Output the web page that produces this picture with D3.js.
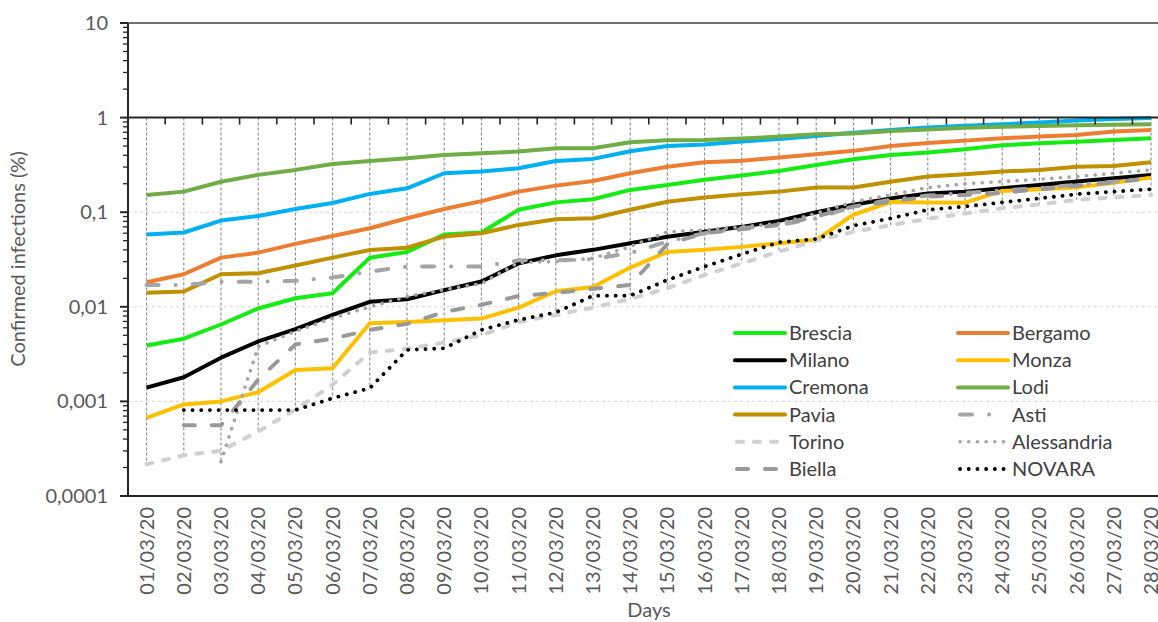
<!DOCTYPE html>
<html>
<head>
<meta charset="utf-8">
<script src="https://cdn.jsdelivr.net/npm/d3@7"></script>
<style>
  body { margin: 0; background: #fff; }
  text { font-family: Lato, "Noto Sans", sans-serif; }
</style>
</head>
<body>
<script>
// Days on the x axis
var days = ["01/03/20","02/03/20","03/03/20","04/03/20","05/03/20","06/03/20","07/03/20",
            "08/03/20","09/03/20","10/03/20","11/03/20","12/03/20","13/03/20","14/03/20",
            "15/03/20","16/03/20","17/03/20","18/03/20","19/03/20","20/03/20","21/03/20",
            "22/03/20","23/03/20","24/03/20","25/03/20","26/03/20","27/03/20","28/03/20"];

// Confirmed infections (%) per province
var brescia = [0.0039, 0.0046, 0.0065, 0.0096, 0.0123, 0.0139, 0.033, 0.038, 0.058, 0.061, 0.106, 0.127, 0.137, 0.172, 0.194, 0.22, 0.244, 0.273, 0.316, 0.363, 0.403, 0.427, 0.462, 0.51, 0.535, 0.557, 0.58, 0.604];
var bergamo = [0.0182, 0.0221, 0.0331, 0.0374, 0.0462, 0.0561, 0.0676, 0.0862, 0.108, 0.131, 0.165, 0.191, 0.214, 0.258, 0.303, 0.337, 0.35, 0.378, 0.41, 0.445, 0.5, 0.54, 0.571, 0.604, 0.63, 0.656, 0.711, 0.74];
var milano = [0.0014, 0.0018, 0.0029, 0.0043, 0.0058, 0.0082, 0.0113, 0.012, 0.015, 0.0185, 0.0288, 0.035, 0.04, 0.047, 0.055, 0.062, 0.07, 0.081, 0.1, 0.12, 0.14, 0.158, 0.165, 0.179, 0.194, 0.211, 0.228, 0.247];
var monza = [0.00067, 0.00093, 0.001, 0.00125, 0.00215, 0.00224, 0.0067, 0.0069, 0.0072, 0.0075, 0.0098, 0.0146, 0.0162, 0.026, 0.038, 0.04, 0.043, 0.047, 0.051, 0.094, 0.128, 0.127, 0.126, 0.168, 0.175, 0.183, 0.205, 0.232];
var cremona = [0.058, 0.061, 0.0815, 0.091, 0.108, 0.125, 0.156, 0.179, 0.258, 0.269, 0.291, 0.348, 0.366, 0.44, 0.5, 0.52, 0.56, 0.595, 0.64, 0.69, 0.74, 0.784, 0.82, 0.85, 0.89, 0.93, 0.965, 0.99];
var lodi = [0.152, 0.165, 0.21, 0.248, 0.28, 0.324, 0.348, 0.371, 0.403, 0.42, 0.437, 0.474, 0.474, 0.548, 0.575, 0.58, 0.6, 0.63, 0.666, 0.68, 0.72, 0.75, 0.78, 0.8, 0.817, 0.83, 0.84, 0.85];
var pavia = [0.0141, 0.0145, 0.0221, 0.0226, 0.0273, 0.0331, 0.0399, 0.0422, 0.0552, 0.0598, 0.0734, 0.0841, 0.0862, 0.106, 0.129, 0.143, 0.155, 0.165, 0.182, 0.182, 0.21, 0.238, 0.252, 0.269, 0.28, 0.303, 0.308, 0.337];
var asti = [0.017, 0.017, 0.0184, 0.0184, 0.0188, 0.0204, 0.0236, 0.0266, 0.0266, 0.0266, 0.031, 0.031, 0.032, 0.037, 0.049, 0.06, 0.068, 0.073, 0.086, 0.115, 0.135, 0.15, 0.16, 0.17, 0.18, 0.195, 0.21, 0.225];
var torino = [0.000216, 0.00027, 0.0003, 0.00048, 0.00082, 0.0015, 0.0033, 0.0036, 0.0042, 0.005, 0.0069, 0.0082, 0.0098, 0.0121, 0.0157, 0.0217, 0.0288, 0.0383, 0.05, 0.062, 0.073, 0.085, 0.097, 0.11, 0.121, 0.135, 0.143, 0.152];
var alessandria = [null, null, 0.00023, 0.0038, 0.0055, 0.0076, 0.01, 0.0128, 0.0152, 0.0176, 0.0294, 0.03, 0.0326, 0.0433, 0.062, 0.065, 0.07, 0.076, 0.097, 0.129, 0.152, 0.182, 0.2, 0.211, 0.223, 0.238, 0.258, 0.28];
var biella = [null, 0.00056, 0.00056, 0.0017, 0.004, 0.0046, 0.0057, 0.0066, 0.0088, 0.0105, 0.013, 0.014, 0.0155, 0.017, 0.046, 0.06, 0.066, 0.073, 0.09, 0.115, 0.129, 0.146, 0.152, 0.16, 0.175, 0.19, 0.207, 0.228];
var novara = [null, 0.00081, 0.00081, 0.00081, 0.00081, 0.00108, 0.00138, 0.0035, 0.00364, 0.00569, 0.00727, 0.00874, 0.0131, 0.0131, 0.0192, 0.0266, 0.036, 0.048, 0.052, 0.072, 0.086, 0.106, 0.115, 0.127, 0.14, 0.155, 0.165, 0.175];

var names = ["Brescia", "Bergamo", "Milano", "Monza", "Cremona", "Lodi", "Pavia", "Asti", "Torino", "Alessandria", "Biella", "NOVARA"];
var values = [brescia, bergamo, milano, monza, cremona, lodi, pavia, asti, torino, alessandria, biella, novara];
var yTicks = [10, 1, 0.1, 0.01, 0.001, 0.0001];
var yTickLabels = ["10", "1", "0,1", "0,01", "0,001", "0,0001"];

// line look per series (Excel-like styles)
var colors = ["#14EC14", "#ED7D31", "#000000", "#FFC000", "#00B0F0", "#70AD47", "#BF9000", "#A5A5A5", "#D0D0D0", "#A5A5A5", "#999999", "#000000"];
var dashes = [null, null, null, null, null, null, null, "12 17 0.1 17", "6 11", "0.1 8.6", "11 17", "0.1 8.6"];
var widths = [4, 4, 4, 4, 4, 4, 4, 4, 4, 3.6, 4, 3.8];

// plot box (note: "top" is a reserved window property, so use other names)
var W = 1158, H = 622;
var plotLeft = 128, plotTop = 23, plotBottom = 496, plotRight = 128 + 28 * 37.2;

var svg = d3.select("body").append("svg")
  .attr("width", W)
  .attr("height", H);

var x = d3.scalePoint().domain(days).range([plotLeft, plotRight]).padding(0.5);
var y = d3.scaleLog().domain([0.0001, 10]).range([plotBottom, plotTop]);

// horizontal dashed gridlines
svg.selectAll(".grid").data([0.1, 0.01, 0.001]).enter()
  .append("line")
  .attr("x1", plotLeft).attr("x2", W)
  .attr("y1", function(d){ return y(d); })
  .attr("y2", function(d){ return y(d); })
  .attr("stroke", "#d4d4d4")
  .attr("stroke-width", 1)
  .attr("stroke-dasharray", "3 3");

// drop lines from the axis at 1 down to the lowest series at each day
var lows = days.map(function(d, i){
  return d3.min(values, function(s){ return s[i]; });
});
svg.selectAll(".drop").data(days).enter()
  .append("line")
  .attr("x1", function(d){ return x(d); })
  .attr("x2", function(d){ return x(d); })
  .attr("y1", y(1))
  .attr("y2", function(d, i){ return y(lows[i]); })
  .attr("stroke", "#8a8a8a")
  .attr("stroke-width", 1.1)
  .attr("stroke-dasharray", "3 2");

// series lines
var line = d3.line()
  .defined(function(d){ return d != null; })
  .x(function(d, i){ return x(days[i]); })
  .y(function(d){ return y(d); });

svg.selectAll(".series").data(values).enter()
  .append("path")
  .attr("d", function(d){ return line(d); })
  .attr("fill", "none")
  .attr("stroke", function(d, i){ return colors[i]; })
  .attr("stroke-width", function(d, i){ return widths[i]; })
  .attr("stroke-dasharray", function(d, i){ return dashes[i]; })
  .attr("stroke-linecap", function(d, i){ return dashes[i] ? "round" : "butt"; })
  .attr("stroke-linejoin", "round");

// frame: top border, bottom line
var axisColor = "#262626";
svg.append("line").attr("x1", plotLeft).attr("x2", W).attr("y1", plotTop).attr("y2", plotTop)
  .attr("stroke", "#404040").attr("stroke-width", 1.5);
svg.append("line").attr("x1", plotLeft).attr("x2", W).attr("y1", plotBottom).attr("y2", plotBottom)
  .attr("stroke", axisColor).attr("stroke-width", 2);

// y axis with log ticks on the left side
var minor = [];
[0.0001, 0.001, 0.01, 0.1, 1].forEach(function(b){
  for (var k = 2; k <= 9; k++) minor.push(b * k);
});
svg.selectAll(".ytickMinor").data(minor).enter()
  .append("line")
  .attr("x1", plotLeft - 5).attr("x2", plotLeft)
  .attr("y1", function(d){ return y(d); })
  .attr("y2", function(d){ return y(d); })
  .attr("stroke", axisColor).attr("stroke-width", 1.3);
svg.selectAll(".ytick").data(yTicks).enter()
  .append("line")
  .attr("x1", plotLeft - 8).attr("x2", plotLeft)
  .attr("y1", function(d){ return y(d); })
  .attr("y2", function(d){ return y(d); })
  .attr("stroke", axisColor).attr("stroke-width", 2);
svg.append("line").attr("x1", plotLeft).attr("x2", plotLeft).attr("y1", plotTop).attr("y2", plotBottom)
  .attr("stroke", axisColor).attr("stroke-width", 2);

svg.selectAll(".ylab").data(yTicks).enter()
  .append("text")
  .attr("x", 108)
  .attr("y", function(d){ return y(d); })
  .attr("dy", "0.35em")
  .attr("text-anchor", "end")
  .attr("font-size", 20)
  .attr("fill", "#595959")
  .text(function(d, i){ return yTickLabels[i]; });

// x axis drawn at y = 1, ticks between categories pointing down
svg.append("line").attr("x1", plotLeft).attr("x2", W).attr("y1", y(1)).attr("y2", y(1))
  .attr("stroke", axisColor).attr("stroke-width", 2);
var step = x.step();
svg.selectAll(".xtick").data(days).enter()
  .append("line")
  .attr("x1", function(d){ return x(d) + step / 2; })
  .attr("x2", function(d){ return x(d) + step / 2; })
  .attr("y1", y(1)).attr("y2", y(1) + 7)
  .attr("stroke", axisColor).attr("stroke-width", 1.6);

// day labels below the plot
svg.selectAll(".xlab").data(days).enter()
  .append("text")
  .attr("transform", function(d){ return "translate(" + x(d) + "," + 507 + ") rotate(-90)"; })
  .attr("dy", "0.35em")
  .attr("text-anchor", "end")
  .attr("font-size", 20)
  .attr("fill", "#595959")
  .text(function(d){ return d; });

// axis titles
svg.append("text")
  .attr("x", 649).attr("y", 617)
  .attr("text-anchor", "middle")
  .attr("font-size", 20)
  .attr("fill", "#595959")
  .text("Days");
svg.append("text")
  .attr("transform", "translate(18,259) rotate(-90)")
  .attr("dy", "0.35em")
  .attr("text-anchor", "middle")
  .attr("font-size", 20)
  .attr("fill", "#595959")
  .text("Confirmed infections (%)");

// legend: two columns, row by row
var legend = svg.selectAll(".legend").data(names).enter()
  .append("g")
  .attr("transform", function(d, i){
    var col = i % 2, row = Math.floor(i / 2);
    return "translate(" + (col === 0 ? 735 : 958) + "," + (333 + row * 27.2) + ")";
  });
legend.append("line")
  .attr("x1", function(d, i){ return dashes[i] ? 2 : 0; })
  .attr("x2", function(d, i){ return dashes[i] ? 48 : 50; })
  .attr("y1", 0).attr("y2", 0)
  .attr("stroke", function(d, i){ return colors[i]; })
  .attr("stroke-width", function(d, i){ return widths[i]; })
  .attr("stroke-dasharray", function(d, i){ return dashes[i]; })
  .attr("stroke-linecap", "round");
legend.append("text")
  .attr("x", 54)
  .attr("dy", "0.35em")
  .attr("font-size", 20)
  .attr("fill", "#404040")
  .text(function(d){ return d; });
</script>
</body>
</html>
